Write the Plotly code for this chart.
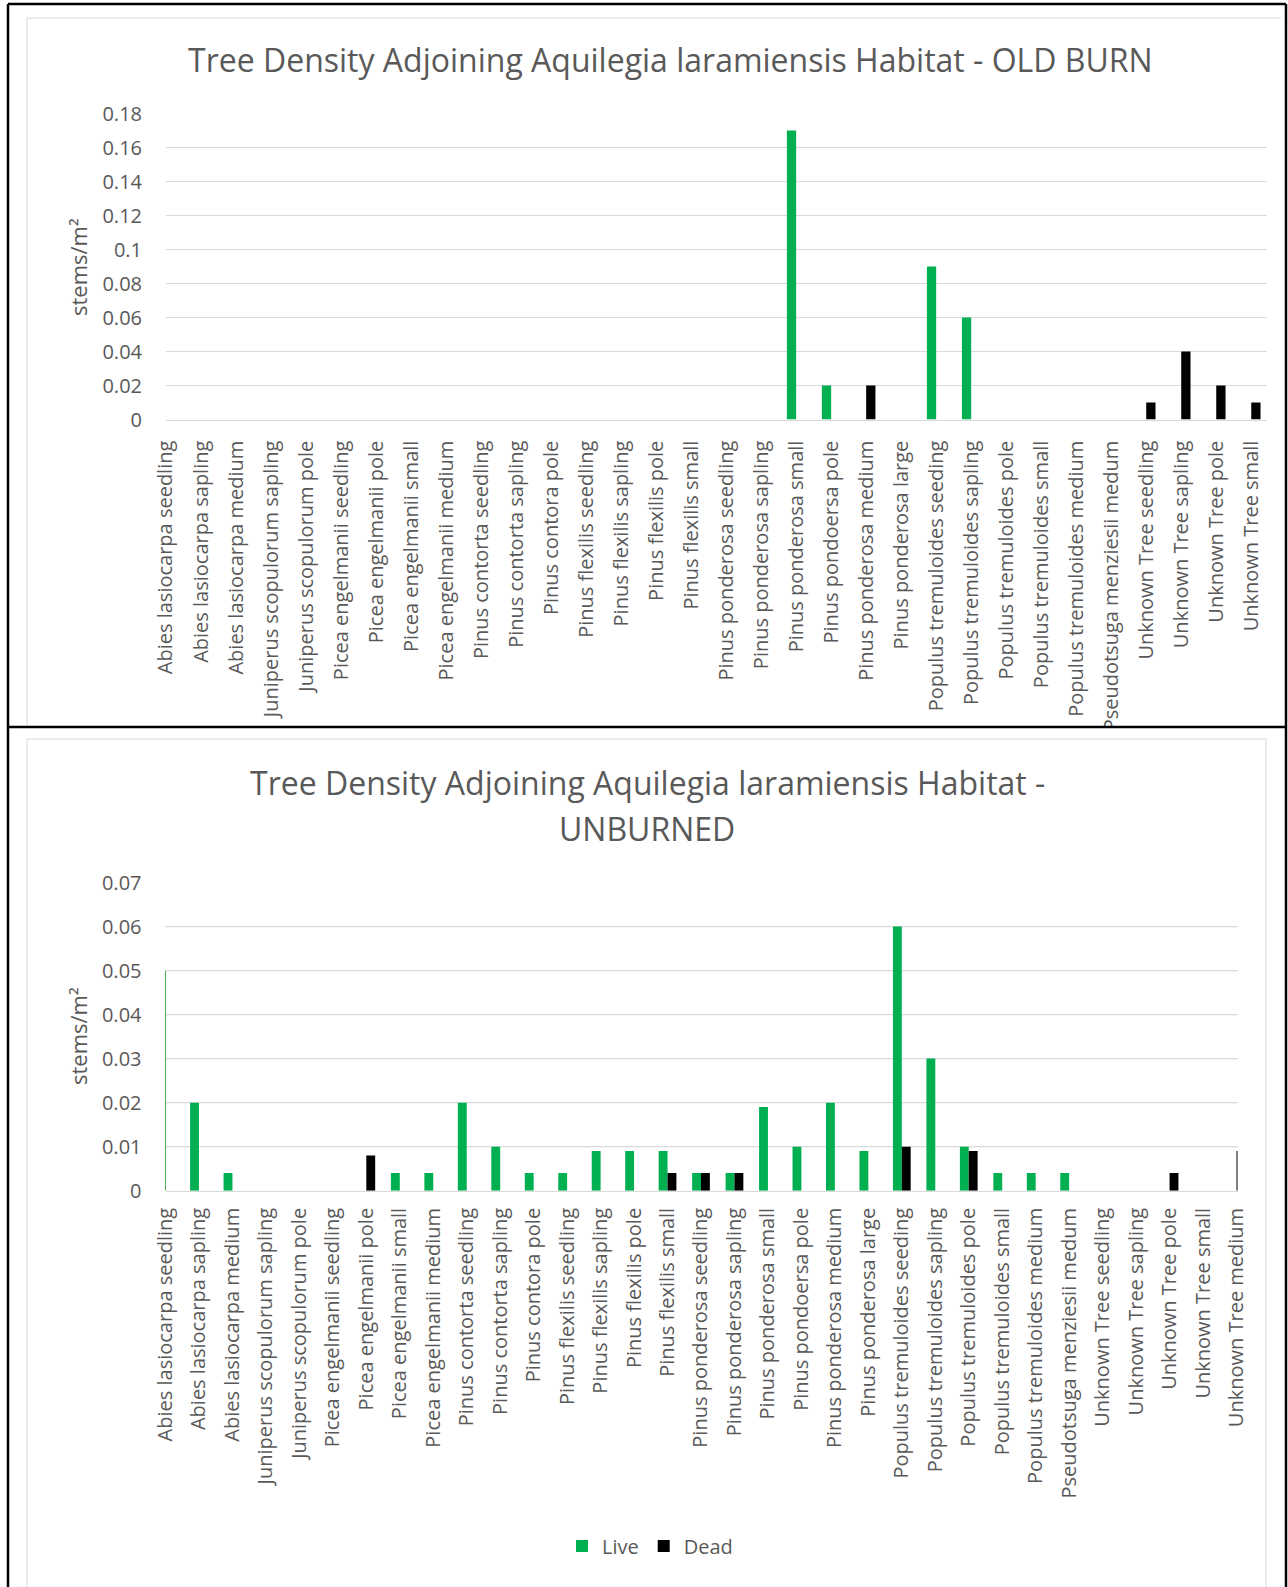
import plotly.graph_objects as go

W, H = 1288, 1587

categories_old = [
    "Abies lasiocarpa seedling", "Abies lasiocarpa sapling", "Abies lasiocarpa medium",
    "Juniperus scopulorum sapling", "Juniperus scopulorum pole",
    "Picea engelmanii seedling", "Picea engelmanii pole", "Picea engelmanii small",
    "Picea engelmanii medium", "Pinus contorta seedling", "Pinus contorta sapling",
    "Pinus contora pole", "Pinus flexilis seedling", "Pinus flexilis sapling",
    "Pinus flexilis pole", "Pinus flexilis small", "Pinus ponderosa seedling",
    "Pinus ponderosa sapling", "Pinus ponderosa small", "Pinus pondoersa pole",
    "Pinus ponderosa medium", "Pinus ponderosa large", "Populus tremuloides seeding",
    "Populus tremuloides sapling", "Populus tremuloides pole", "Populus tremuloides small",
    "Populus tremuloides medium", "Pseudotsuga menziesii medum", "Unknown Tree seedling",
    "Unknown Tree sapling", "Unknown Tree pole", "Unknown Tree small",
]
live_old = [0, 0, 0, 0, 0, 0, 0, 0, 0, 0, 0, 0, 0, 0, 0, 0, 0, 0,
            0.17, 0.02, 0, 0, 0.09, 0.06, 0, 0, 0, 0, 0, 0, 0, 0]
dead_old = [0, 0, 0, 0, 0, 0, 0, 0, 0, 0, 0, 0, 0, 0, 0, 0, 0, 0,
            0, 0, 0.02, 0, 0, 0, 0, 0, 0, 0, 0.01, 0.04, 0.02, 0.01]

categories_unb = categories_old + ["Unknown Tree medium"]
live_unb = [0, 0.02, 0.004, 0, 0, 0, 0, 0.004, 0.004, 0.02, 0.01, 0.004, 0.004,
            0.009, 0.009, 0.009, 0.004, 0.004, 0.019, 0.01, 0.02, 0.009, 0.06,
            0.03, 0.01, 0.004, 0.004, 0.004, 0, 0, 0, 0, 0]
dead_unb = [0, 0, 0, 0, 0, 0, 0.008, 0, 0, 0, 0, 0, 0, 0, 0, 0.004, 0.004,
            0.004, 0, 0, 0, 0, 0.01, 0, 0.009, 0, 0, 0, 0, 0, 0.004, 0, 0.009]

yticks_old = [0, 0.02, 0.04, 0.06, 0.08, 0.1, 0.12, 0.14, 0.16, 0.18]
yticklabels_old = ["0", "0.02", "0.04", "0.06", "0.08", "0.1", "0.12", "0.14", "0.16", "0.18"]
yticks_unb = [0, 0.01, 0.02, 0.03, 0.04, 0.05, 0.06, 0.07]
yticklabels_unb = ["0", "0.01", "0.02", "0.03", "0.04", "0.05", "0.06", "0.07"]
grid_unb = [0.01, 0.02, 0.03, 0.04, 0.05, 0.06]

title_old = "Tree Density Adjoining Aquilegia laramiensis Habitat - OLD BURN"
title_unb_1 = "Tree Density Adjoining Aquilegia laramiensis Habitat -"
title_unb_2 = "UNBURNED"
y_title = "stems/m²"

GREEN = "#00B050"
BLACK = "#000000"
TXT = "#595959"
GRID = "#D9D9D9"
FONT = "Open Sans"


def px(x):
    return x / W


def py(y):
    return 1 - y / H


fig = go.Figure()
fig.add_trace(go.Bar(x=categories_old, y=live_old, name="Live", marker_color=GREEN,
                     marker_line_width=0, xaxis="x", yaxis="y", showlegend=False))
fig.add_trace(go.Bar(x=categories_old, y=dead_old, name="Dead", marker_color=BLACK,
                     marker_line_width=0, xaxis="x", yaxis="y", showlegend=False))
fig.add_trace(go.Bar(x=categories_unb, y=live_unb, name="Live", marker_color=GREEN,
                     marker_line_width=0, xaxis="x2", yaxis="y2"))
fig.add_trace(go.Bar(x=categories_unb, y=dead_unb, name="Dead", marker_color=BLACK,
                     marker_line_width=0, xaxis="x2", yaxis="y2"))

tickfont = dict(family=FONT, size=20, color=TXT)

xcommon = dict(type="category", tickangle=-90, tickfont=tickfont, showgrid=False,
               zeroline=False, showline=True, linecolor=GRID, linewidth=1.3,
               ticks="outside", ticklen=12, tickcolor="rgba(0,0,0,0)", fixedrange=True,
               automargin=False)
ycommon = dict(tickfont=tickfont, zeroline=False, showline=False,
               ticks="outside", ticklen=19, tickcolor="rgba(0,0,0,0)", fixedrange=True,
               automargin=False)

shapes = []
# gridlines for the unburned chart (no line at the top value)
for g in grid_unb:
    shapes.append(dict(type="line", xref="x2 domain", yref="y2", x0=0, x1=1, y0=g, y1=g,
                       line=dict(color=GRID, width=1.3), layer="below"))
# short vertical axis line on the unburned chart
shapes.append(dict(type="line", xref="x2 domain", yref="y2", x0=0, x1=0, y0=0, y1=0.05,
                   line=dict(color="#4CAF50", width=1), layer="above"))
# inner light chart-area borders
shapes.append(dict(type="line", xref="paper", yref="paper", x0=px(27), x1=px(1281),
                   y0=py(18), y1=py(18), line=dict(color="#D9D9D9", width=1)))
shapes.append(dict(type="line", xref="paper", yref="paper", x0=px(27), x1=px(27),
                   y0=py(18), y1=py(726), line=dict(color="#D9D9D9", width=1)))
shapes.append(dict(type="rect", xref="paper", yref="paper", x0=px(27), x1=px(1266),
                   y0=py(739), y1=py(1600), line=dict(color="#D9D9D9", width=1)))
# white band clipping the top chart's overflowing labels
shapes.append(dict(type="rect", xref="paper", yref="paper", x0=px(10), x1=px(1285),
                   y0=py(727), y1=py(737), fillcolor="white", line=dict(width=0), layer="above"))
# outer black frame
for (x0, y0, x1, y1) in [(8, 4, 1286, 4), (8, 4, 8, 1600), (1286, 4, 1286, 1600), (8, 727, 1286, 727)]:
    shapes.append(dict(type="line", xref="paper", yref="paper", x0=px(x0), x1=px(x1),
                       y0=py(y0), y1=py(y1), line=dict(color="#000000", width=2.5), layer="above"))

annotations = [
    dict(text=title_old, x=px(670), y=py(59), xref="paper", yref="paper", showarrow=False,
         xanchor="center", yanchor="middle", font=dict(family=FONT, size=32, color=TXT)),
    dict(text=title_unb_1, x=px(647), y=py(782), xref="paper", yref="paper", showarrow=False,
         xanchor="center", yanchor="middle", font=dict(family=FONT, size=32, color=TXT)),
    dict(text=title_unb_2, x=px(647), y=py(828), xref="paper", yref="paper", showarrow=False,
         xanchor="center", yanchor="middle", font=dict(family=FONT, size=32, color=TXT)),
    dict(text=y_title, x=px(78), y=py(267), xref="paper", yref="paper", showarrow=False,
         textangle=-90, xanchor="center", yanchor="middle", font=dict(family=FONT, size=22, color=TXT)),
    dict(text=y_title, x=px(78), y=py(1036), xref="paper", yref="paper", showarrow=False,
         textangle=-90, xanchor="center", yanchor="middle", font=dict(family=FONT, size=22, color=TXT)),
]

fig.update_layout(
    width=W, height=H, margin=dict(l=0, r=0, t=0, b=0, autoexpand=False),
    paper_bgcolor="white", plot_bgcolor="white",
    barmode="group", bargap=0.47, bargroupgap=0,
    font=dict(family=FONT, color=TXT),
    xaxis=dict(xcommon, domain=[px(166), px(1267)], range=[0, 31.45], anchor="y",
               categoryorder="array", categoryarray=categories_old),
    yaxis=dict(ycommon, domain=[py(419.5), py(113.5)], range=[0, 0.18], anchor="x",
               tickvals=yticks_old, ticktext=yticklabels_old, showgrid=True,
               gridcolor=GRID, gridwidth=1.3),
    xaxis2=dict(xcommon, domain=[px(165.5), px(1237.5)], range=[0, 32.03], anchor="y2",
                categoryorder="array", categoryarray=categories_unb, ticklen=8),
    yaxis2=dict(ycommon, domain=[py(1190.7), py(882.5)], range=[0, 0.07], anchor="x2",
                tickvals=yticks_unb, ticktext=yticklabels_unb, showgrid=False),
    legend=dict(orientation="h", x=px(650), xanchor="center", y=py(1546), yanchor="middle",
                font=dict(family=FONT, size=20, color=TXT), bgcolor="rgba(0,0,0,0)",
                itemclick=False, itemdoubleclick=False),
    shapes=shapes,
    annotations=annotations,
    showlegend=True,
)

fig.write_html("out.html", config={"displayModeBar": False},
               post_script="document.body.style.margin='0';document.body.style.overflow='hidden';")
